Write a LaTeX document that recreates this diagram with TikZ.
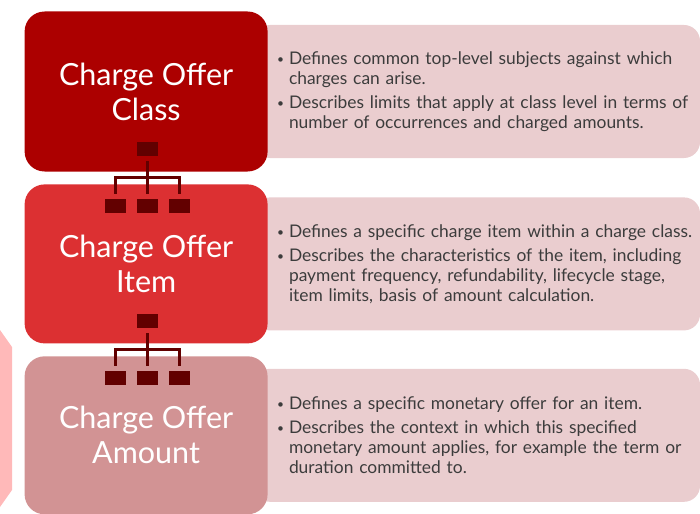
\documentclass[tikz,border=0pt]{standalone}
\usepackage{fontspec}
\setmainfont{Lato}
\usetikzlibrary{positioning,calc}

\definecolor{classred}{HTML}{AC0000}
\definecolor{itemred}{HTML}{DC3032}
\definecolor{amountred}{HTML}{D29394}
\definecolor{descpink}{HTML}{EACDCF}
\definecolor{iconred}{HTML}{620000}
\definecolor{sidepink}{HTML}{FFB9B9}
\definecolor{textgray}{HTML}{3C3C3C}

% one line of a bullet list, first line and continuation
\newcommand{\bulletpt}[1]{\mbox{\hspace*{23pt}\makebox[12pt][l]{\raisebox{1pt}{\fontsize{12}{12}\selectfont\textbullet}}#1}}
\newcommand{\bulletin}[1]{\mbox{\hspace*{35pt}#1}}

\begin{document}
\begin{tikzpicture}[x=1pt,y=-1pt,node distance=12pt,
    lvl/.style={rectangle,rounded corners=20pt,minimum width=243pt,inner sep=0pt,text=white,align=center,font=\fontsize{30.5}{35}\selectfont},
    desc/.style={rectangle,rounded corners=16pt,fill=descpink,minimum width=446pt,minimum height=133pt,text width=446pt,inner xsep=0pt,text=textgray,align=left,font=\fontsize{17.4}{20}\selectfont},
    sq/.style={rectangle,fill=iconred,minimum width=21pt,minimum height=14pt,inner sep=0pt},
    link/.style={draw=iconred,line width=3pt}]
    \useasboundingbox (0,0) rectangle (700,513);
    \fill[sidepink] (0,330) -- (12,347) -- (12,490) -- (0,507) -- cycle;

    \node [desc] (dClass) at (477,91.5) {\bulletpt{Defines common top-level subjects against which}\\ \bulletin{charges can arise.}\\[4pt] \bulletpt{Describes limits that apply at class level in terms of}\\ \bulletin{number of occurrences and charged amounts.}};
    \node [desc, below=39pt of dClass] (dItem) {\bulletpt{Defines a specific charge item within a charge class.}\\[4pt] \bulletpt{Describes the characteristics of the item, including}\\ \bulletin{payment frequency, refundability, lifecycle stage,}\\ \bulletin{item limits, basis of amount calculation.}};
    \node [desc, below=38pt of dItem] (dAmount) {\bulletpt{Defines a specific monetary offer for an item.}\\[4pt] \bulletpt{Describes the context in which this specified}\\ \bulletin{monetary amount applies, for example the term or}\\ \bulletin{duration committed to.}};

    \node [lvl, fill=classred, minimum height=160pt, left=-14pt of dClass] (class) {Charge Offer\\Class};
    \node [lvl, fill=itemred, minimum height=159pt, left=-14pt of dItem] (item) {Charge Offer\\Item};
    \node [lvl, fill=amountred, minimum height=158pt, left=-14pt of dAmount] (amount) {Charge Offer\\Amount};

    % class -> item
    \node [sq] (t1) at (147.5,149) {};
    \node [sq, below=42.5pt of t1] (m1) {};
    \node [sq, left=11pt of m1] (l1) {};
    \node [sq, right=11pt of m1] (r1) {};
    \coordinate (j1) at ($(t1.south)!0.5!(m1.north)$);
    \draw [link, shorten <=5pt] (t1.south) -- (j1);
    \draw [link, shorten >=5pt] (j1) -- (m1.north);
    \draw [link] ([yshift=5pt] l1.north) |- (j1) -| ([yshift=5pt] r1.north);

    % item -> amount
    \node [sq] (t2) at (147.5,321) {};
    \node [sq, below=42.5pt of t2] (m2) {};
    \node [sq, left=11pt of m2] (l2) {};
    \node [sq, right=11pt of m2] (r2) {};
    \coordinate (j2) at ($(t2.south)!0.5!(m2.north)$);
    \draw [link, shorten <=5pt] (t2.south) -- (j2);
    \draw [link, shorten >=5pt] (j2) -- (m2.north);
    \draw [link] ([yshift=5pt] l2.north) |- (j2) -| ([yshift=5pt] r2.north);
\end{tikzpicture}
\end{document}
